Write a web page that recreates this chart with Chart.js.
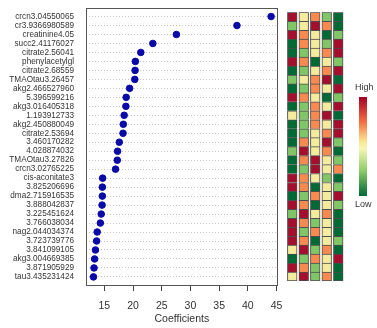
<!DOCTYPE html>
<html>
<head>
<meta charset="utf-8">
<script src="https://cdn.jsdelivr.net/npm/chart.js@4.4.1/dist/chart.umd.min.js"></script>
<style>
body{margin:0;width:377px;height:328px;background:#fff;position:relative;overflow:hidden;font-family:"Liberation Sans",Arial,sans-serif}
#main{position:absolute;left:0;top:0;width:292px;height:328px}
#heat{position:absolute;left:280px;top:0;width:70px;height:328px}
#scalebar{position:absolute;left:359px;top:97px;width:8px;height:99px;
  background:linear-gradient(to bottom,#a50026 0%,#f46d43 25%,#fbe28e 44%,#f8f6b6 52%,#8fcc6a 74%,#006837 100%)}
.lg{position:absolute;font-size:9px;color:#333}
</style>
</head>
<body>
<div id="main"><canvas id="cMain"></canvas></div>
<div id="heat"><canvas id="cHeat"></canvas></div>
<div id="scalebar"></div>
<div class="lg" style="left:355px;top:82px">High</div>
<div class="lg" style="left:355px;top:199px">Low</div>
<script>
// variable names, top to bottom
const names = ["crcn3.04550065","cr3.9366980589","creatinine4.05","succ2.41176027","citrate2.56041",
  "phenylacetylgl","citrate2.68559","TMAOtau3.26457","akg2.466527960","5.396599216",
  "akg3.016405318","1.193912733","akg2.450880049","citrate2.53694","3.460170282",
  "4.028874032","TMAOtau3.27826","crcn3.02765225","cis-aconitate3","3.825206696",
  "dma2.715916535","3.888042837","3.225451624","3.766038034","nag2.044034374",
  "3.723739776","3.841099105","akg3.004669385","3.871905929","tau3.435231424"];

const coefs = [44.05, 38.1, 27.55, 23.45, 21.35, 20.4, 20.35, 20.3, 19.4, 18.8,
  18.75, 18.45, 18.3, 18.25, 17.6, 17.3, 17.25, 16.95, 14.7, 14.65,
  14.65, 14.6, 14.45, 14.3, 13.75, 13.65, 13.45, 13.3, 13.2, 13.1];

const xTicks = [15, 20, 25, 30, 35, 40, 45];

// heatmap levels per column (1 = low ... 5 = high)
const heat1 = [5,2,5,1,1,5,1,2,1,5,1,3,1,1,1,2,1,1,5,5,1,5,2,5,5,5,3,1,5,3];
const heat2 = [3,3,4,4,2,4,2,3,2,4,2,2,2,2,4,5,4,2,4,4,2,4,5,4,2,4,5,2,4,5];
const heat3 = [4,5,3,3,3,1,3,4,4,3,4,4,4,3,3,3,5,5,3,1,4,1,3,2,4,1,2,4,2,2];
const heat4 = [2,4,1,2,4,3,4,5,3,1,3,5,3,4,5,4,3,3,2,3,3,3,4,3,3,3,4,3,3,4];
const heat5 = [1,1,2,5,5,2,5,1,5,2,5,1,5,5,2,1,2,4,1,2,5,2,1,1,1,2,1,5,1,1];
const heatCols = [heat1, heat2, heat3, heat4, heat5];
const palette = ["#006a35", "#80c566", "#f5eb9c", "#f88a50", "#a50f2d"];

const boxPlugin = {
  id: 'box',
  afterDraw(chart) {
    const a = chart.chartArea, c = chart.ctx;
    c.save();
    c.strokeStyle = '#555';
    c.lineWidth = 1;
    c.strokeRect(Math.round(a.left) + 0.5, Math.round(a.top) + 0.5,
      Math.round(a.right - a.left) - 1, Math.round(a.bottom - a.top));
    c.restore();
  }
};

new Chart(document.getElementById('cMain'), {
  type: 'scatter',
  data: {
    datasets: [{
      data: coefs.map((v, i) => ({x: v, y: i})),
      backgroundColor: '#0a0aa8',
      borderColor: '#0a0aa8',
      pointRadius: 3.3,
      pointHoverRadius: 3.3
    }]
  },
  options: {
    responsive: true,
    maintainAspectRatio: false,
    animation: false,
    layout: {padding: {top: 8, right: 14.3, left: 0, bottom: 0}},
    plugins: {legend: {display: false}, tooltip: {enabled: false}},
    scales: {
      x: {
        type: 'linear', min: 11.8, max: 45.2,
        afterBuildTicks: s => { s.ticks = xTicks.map(v => ({value: v})); },
        afterFit: s => { s.height = 43; s.paddingLeft = 0; s.paddingRight = 0; },
        grid: {drawOnChartArea: false, drawTicks: true, tickLength: 6, tickColor: '#444'},
        border: {display: false},
        ticks: {font: {family: 'Liberation Sans', size: 10.5}, color: '#333', padding: 9, maxRotation: 0},
        title: {display: true, text: 'Coefficients', font: {family: 'Liberation Sans', size: 10.5},
          color: '#333', padding: {top: 0, bottom: 3}}
      },
      y: {
        type: 'linear', reverse: true, min: -0.95, max: 29.9,
        afterBuildTicks: s => { s.ticks = names.map((n, i) => ({value: i})); },
        afterFit: s => { s.width = 86; s.paddingTop = 0; s.paddingBottom = 0; },
        ticks: {callback: v => names[v], font: {family: 'Liberation Sans', size: 8.2},
          color: '#333', padding: 12, autoSkip: false},
        grid: {color: '#c4c4c4', drawTicks: false},
        border: {display: false, dash: [1, 2]}
      }
    }
  },
  plugins: [boxPlugin]
});

new Chart(document.getElementById('cHeat'), {
  type: 'bar',
  data: {
    labels: names,
    datasets: heatCols.map((col, c) => ({
      data: col.map(() => [c + 1 - 0.42, c + 1 + 0.42]),
      backgroundColor: col.map(v => palette[v - 1]),
      borderColor: '#4d4d4d',
      borderWidth: ctx => ({top: 1, left: 1, right: 1, bottom: ctx.dataIndex === names.length - 1 ? 1 : 0}),
      borderSkipped: false,
      categoryPercentage: 1,
      barPercentage: 1,
      grouped: false
    }))
  },
  options: {
    indexAxis: 'y',
    responsive: true,
    maintainAspectRatio: false,
    animation: false,
    layout: {padding: {left: 6.5, right: 6, top: 12.3, bottom: 47}},
    plugins: {legend: {display: false}, tooltip: {enabled: false}},
    scales: {
      x: {type: 'linear', min: 0.5, max: 5.5, display: false},
      y: {type: 'category', display: false}
    }
  }
});
</script>
</body>
</html>
